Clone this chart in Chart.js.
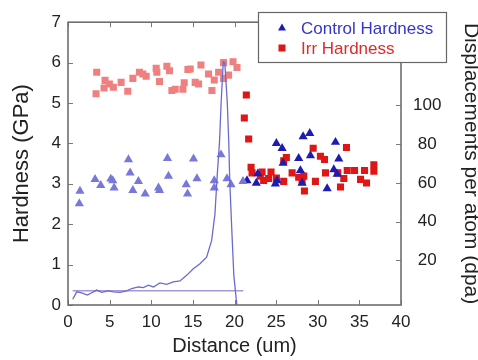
<!DOCTYPE html>
<html>
<head>
<meta charset="utf-8">
<title>Hardness and dpa vs distance</title>
<script src="https://cdn.jsdelivr.net/npm/chart.js"></script>
<style>
  html, body { margin: 0; padding: 0; background: #fff; }
  #wrap { width: 478px; height: 360px; }
</style>
</head>
<body>
<div id="wrap"><canvas id="chart" width="478" height="360"></canvas></div>
<script>
// Control hardness, unirradiated side (x in um, y in GPa)
const ctrlLightX = [1.44, 1.36, 3.25, 3.93, 5.14, 5.38, 5.54, 7.26, 7.46, 7.79, 8.46, 9.27, 10.87, 10.99, 11.95, 12.07, 14.20, 14.36, 15.08, 15.49, 17.57, 17.57, 18.38, 19.10, 19.58, 21.02];
const ctrlLightY = [2.82, 2.51, 3.11, 2.96, 3.12, 3.08, 2.90, 3.60, 3.27, 2.84, 3.06, 2.75, 2.90, 2.84, 3.63, 3.19, 2.98, 2.75, 3.62, 3.13, 3.08, 2.90, 3.72, 3.13, 2.98, 3.06];

// Control hardness past the implanted region
const ctrlDarkX = [21.50, 22.62, 22.80, 25.03, 25.72, 25.84, 25.11, 24.91, 27.71, 27.92, 28.12, 28.24, 29.04, 29.12, 31.13, 31.93, 32.13, 32.33, 32.53];
const ctrlDarkY = [3.08, 3.02, 3.25, 4.00, 3.88, 3.51, 3.08, 3.00, 3.63, 3.33, 3.02, 4.17, 4.25, 3.70, 2.88, 3.35, 4.03, 3.24, 3.62];

// Irradiated hardness inside the damaged layer
const irrLightX = [3.45, 3.37, 4.33, 4.45, 4.97, 5.45, 6.38, 7.18, 7.79, 8.58, 8.99, 9.39, 10.59, 10.67, 10.99, 11.88, 12.19, 12.48, 12.88, 13.80, 13.96, 14.40, 14.68, 15.28, 15.68, 15.97, 16.88, 17.29, 17.57, 18.09, 18.69, 18.69, 19.29, 19.82, 20.30];
const irrLightY = [5.76, 5.23, 5.37, 5.56, 5.47, 5.39, 5.51, 5.29, 5.61, 5.76, 5.72, 5.66, 5.86, 5.76, 5.53, 5.91, 5.80, 5.31, 5.34, 5.34, 5.50, 5.83, 5.84, 5.51, 5.47, 5.94, 5.72, 5.31, 5.57, 5.76, 6.00, 5.61, 5.69, 6.02, 5.88];

// Irradiated hardness beyond the damaged layer
const irrDarkX = [21.42, 21.18, 21.70, 29.45, 33.45, 26.23, 25.91, 30.32, 30.81, 21.99, 22.11, 23.31, 23.50, 24.39, 24.10, 25.03, 25.91, 26.92, 27.71, 28.32, 28.12, 29.72, 28.40, 23.10, 30.93, 32.41, 33.13, 32.73, 33.54, 34.42, 35.62, 35.14, 35.86, 36.74, 36.74];
const irrDarkY = [5.20, 4.63, 4.11, 3.88, 3.90, 3.65, 3.57, 3.68, 3.60, 3.41, 3.27, 3.29, 3.08, 3.29, 3.13, 3.14, 3.06, 3.27, 3.16, 3.19, 3.05, 3.06, 2.82, 3.19, 3.27, 3.27, 3.13, 2.92, 3.33, 3.33, 3.33, 3.11, 3.02, 3.47, 3.31];

// Damage profile (dpa) against depth
const dpaX = [0.57, 1.05, 1.65, 2.33, 2.85, 3.45, 4.05, 4.85, 5.45, 6.25, 7.05, 7.65, 8.45, 9.05, 9.65, 10.25, 11.05, 11.85, 12.65, 13.45, 14.25, 15.05, 15.85, 16.65, 17.25, 17.65, 17.93, 18.20, 18.40, 18.65, 18.83, 19.13, 19.31, 19.43, 19.68, 19.92, 20.28];
const dpaY = [0.0, 3.8, 3.3, 2.1, 3.3, 4.7, 3.5, 4.3, 3.8, 3.5, 4.3, 5.5, 6.3, 6.0, 7.2, 6.3, 8.4, 7.7, 8.9, 9.4, 12.3, 15.7, 18.3, 21.7, 30.2, 43.9, 64.3, 81.3, 101.8, 122.6, 122.2, 101.8, 81.3, 60.9, 35.3, 12.3, -3.0];

// Reference dpa level
const refX = [0.57, 21.05];
const refY = [4.3, 4.3];

const xTicks = [0, 5, 10, 15, 20, 25, 30, 35, 40];
const dpaTicks = [20, 40, 60, 80, 100];

const FONT = '"Liberation Sans", Arial, Helvetica, sans-serif';
const BLUE = '#1c1cb4', BLUE_LT = '#7878da';
const RED = '#e01515', RED_LT = '#f08080';

const pts = (xs, ys) => xs.map((x, i) => ({ x, y: ys[i] }));

// plot frame and inward tick marks
const framePlugin = {
  id: 'frame',
  afterDatasetsDraw(chart) {
    const { ctx, chartArea: a, scales } = chart;
    const len = 5;
    ctx.save();
    ctx.strokeStyle = '#7a7a7a';
    ctx.lineWidth = 1;
    ctx.beginPath();
    scales.x.ticks.forEach(t => {
      const px = Math.round(scales.x.getPixelForValue(t.value)) + 0.5;
      ctx.moveTo(px, a.bottom); ctx.lineTo(px, a.bottom - len);
      ctx.moveTo(px, a.top); ctx.lineTo(px, a.top + len);
    });
    scales.y.ticks.forEach(t => {
      const py = Math.round(scales.y.getPixelForValue(t.value)) + 0.5;
      ctx.moveTo(a.left, py); ctx.lineTo(a.left + len, py);
    });
    scales.y2.ticks.forEach(t => {
      const py = Math.round(scales.y2.getPixelForValue(t.value)) + 0.5;
      ctx.moveTo(a.right, py); ctx.lineTo(a.right - len, py);
    });
    ctx.stroke();
    ctx.lineWidth = 1.6;
    ctx.strokeStyle = '#6e6e6e';
    ctx.strokeRect(a.left, a.top, a.right - a.left, a.bottom - a.top);
    ctx.restore();
  }
};

// boxed legend, sitting over the top right corner
const legendPlugin = {
  id: 'boxLegend',
  afterDraw(chart) {
    const { ctx } = chart;
    const items = chart.data.datasets.filter(d => d.label);
    ctx.save();
    ctx.fillStyle = '#fff';
    ctx.fillRect(258, 12, 188, 50);
    ctx.strokeStyle = '#666';
    ctx.lineWidth = 1.2;
    ctx.strokeRect(258.5, 12.5, 188, 50);
    ctx.font = '17px ' + FONT;
    ctx.textBaseline = 'middle';
    items.forEach((d, i) => {
      const cy = 28 + i * 20;
      const cx = 282;
      ctx.fillStyle = d.pointBackgroundColor;
      ctx.beginPath();
      if (d.pointStyle === 'triangle') {
        ctx.moveTo(cx, cy - 4.5);
        ctx.lineTo(cx + 4, cy + 2.5);
        ctx.lineTo(cx - 4, cy + 2.5);
        ctx.closePath();
      } else {
        ctx.rect(cx - 3.5, cy - 3.5, 7, 7);
      }
      ctx.fill();
      ctx.fillStyle = d.legendColor;
      ctx.fillText(d.label, 301, cy + 1);
    });
    ctx.restore();
  }
};

const scatterSet = (label, xs, ys, style, color, radius) => ({
  type: 'scatter',
  label,
  data: pts(xs, ys),
  yAxisID: 'y',
  pointStyle: style,
  pointRadius: radius,
  pointBackgroundColor: color,
  pointBorderWidth: 0,
  showLine: false,
  order: 2
});

const ctrlDark = scatterSet('Control Hardness', ctrlDarkX, ctrlDarkY, 'triangle', BLUE, 5.3);
ctrlDark.legendColor = '#3535c8';
const irrDark = scatterSet('Irr Hardness', irrDarkX, irrDarkY, 'rect', RED, 5);
irrDark.legendColor = '#e02a2a';

new Chart(document.getElementById('chart'), {
  type: 'scatter',
  data: {
    datasets: [
      {
        type: 'line',
        data: pts(dpaX, dpaY),
        yAxisID: 'y2',
        borderColor: '#6a6ad0',
        borderWidth: 1.3,
        pointRadius: 0,
        tension: 0,
        order: 0
      },
      {
        type: 'line',
        data: pts(refX, refY),
        yAxisID: 'y2',
        borderColor: '#a898d8',
        borderWidth: 1.5,
        pointRadius: 0,
        order: 1
      },
      scatterSet('', ctrlLightX, ctrlLightY, 'triangle', BLUE_LT, 5.3),
      scatterSet('', irrLightX, irrLightY, 'rect', RED_LT, 5),
      ctrlDark,
      irrDark
    ]
  },
  options: {
    responsive: false,
    animation: false,
    devicePixelRatio: 1,
    layout: { padding: { top: 19, left: 0, right: 0, bottom: 0 } },
    plugins: {
      legend: { display: false },
      tooltip: { enabled: false }
    },
    scales: {
      x: {
        type: 'linear',
        min: 0, max: 40,
        afterBuildTicks: s => { s.ticks = xTicks.map(v => ({ value: v })); },
        afterFit: s => { s.height = 55; },
        grid: { display: false, drawTicks: false },
        border: { display: false },
        ticks: { font: { family: FONT, size: 17 }, color: '#222', padding: 7 },
        title: {
          display: true, text: 'Distance (um)', color: '#222',
          font: { family: FONT, size: 20 }, padding: { top: 0, bottom: 2 }
        }
      },
      y: {
        position: 'left',
        min: 0, max: 7,
        ticks: { stepSize: 1, font: { family: FONT, size: 17 }, color: '#222', padding: 7 },
        afterFit: s => { s.width = 68; },
        grid: { display: false, drawTicks: false },
        border: { display: false },
        title: {
          display: true, text: 'Hardness (GPa)', color: '#222',
          font: { family: FONT, size: 22 }, padding: { top: 9, bottom: 0 }
        }
      },
      y2: {
        position: 'right',
        min: -3, max: 143,
        afterBuildTicks: s => { s.ticks = dpaTicks.map(v => ({ value: v })); },
        afterFit: s => { s.width = 77; },
        grid: { display: false, drawTicks: false },
        border: { display: false },
        ticks: { font: { family: FONT, size: 17 }, color: '#222', padding: 12, crossAlign: 'center' },
        title: {
          display: true, text: 'Displacements per atom (dpa)', color: '#222',
          font: { family: FONT, size: 21 }, padding: { top: -5, bottom: 0 }
        }
      }
    }
  },
  plugins: [framePlugin, legendPlugin]
});
</script>
</body>
</html>
